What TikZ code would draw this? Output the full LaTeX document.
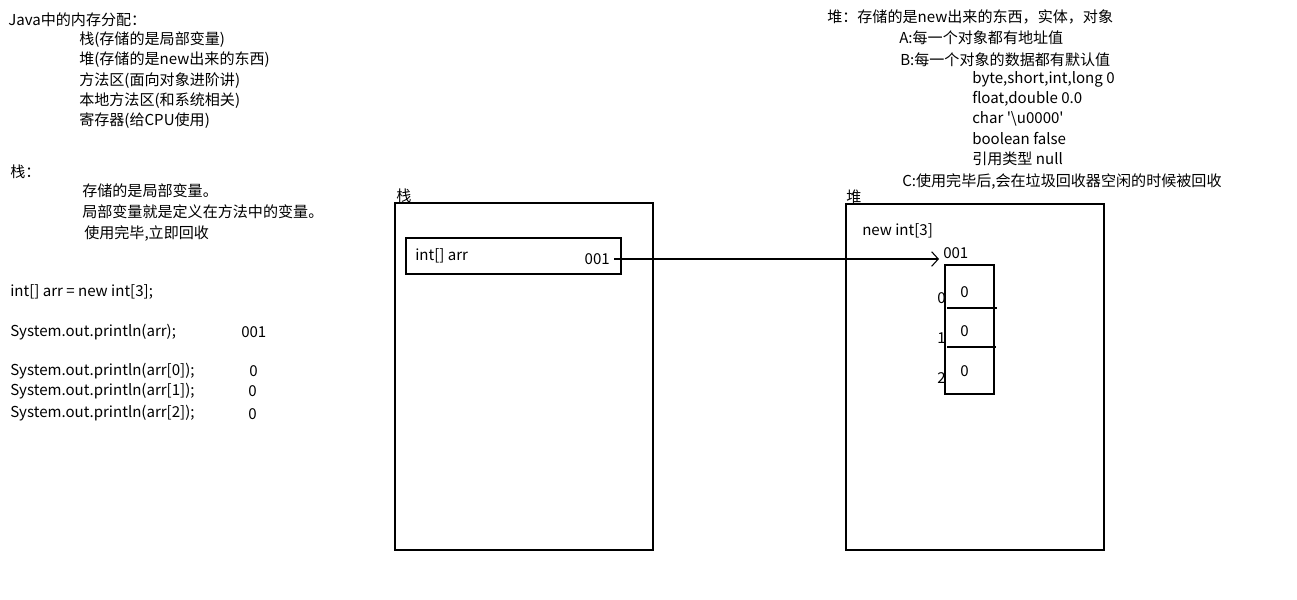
\documentclass[tikz,border=0pt]{standalone}
\usepackage{fontspec}
\setmainfont{Noto Sans CJK SC}
\usetikzlibrary{arrows.meta,positioning}

\tikzset{
  txt/.style={anchor=west, inner sep=0pt, font=\fontsize{11.3pt}{13pt}\selectfont},
  area/.style={draw, line width=0.8pt},
  pointer/.style={-{Straight Barb[length=5pt,width=11pt]}, line width=0.8pt}
}

\begin{document}
\begin{tikzpicture}[x=0.75pt, y=-0.75pt]
  \useasboundingbox (0,0) rectangle (1297,600);

  % Notes on memory areas
  \node[txt] (title) at (8,20) {Java中的内存分配：};
  \node[txt] (m1) at (79,40) {栈(存储的是局部变量)};
  \node[txt] (m2) at (79,60) {堆(存储的是new出来的东西)};
  \node[txt] (m3) at (79,81) {方法区(面向对象进阶讲)};
  \node[txt] (m4) at (79,101) {本地方法区(和系统相关)};
  \node[txt] (m5) at (79,121) {寄存器(给CPU使用)};

  % Notes on the stack
  \node[txt] (snote) at (10,172) {栈：};
  \node[txt] (s1) at (82,191) {存储的是局部变量。};
  \node[txt] (s2) at (82,212) {局部变量就是定义在方法中的变量。};
  \node[txt] (s3) at (84,234) {使用完毕,立即回收};

  % Code and its output
  \node[txt] (c1) at (10,292) {int[] arr = new int[3];};
  \node[txt] (c2) at (10,332) {System.out.println(arr);};
  \node[txt] (o2) at (241,332) {001};
  \node[txt] (c3) at (10,371) {System.out.println(arr[0]);};
  \node[txt] (o3) at (249,371) {0};
  \node[txt] (c4) at (10,391) {System.out.println(arr[1]);};
  \node[txt] (o4) at (248,391) {0};
  \node[txt] (c5) at (10,413) {System.out.println(arr[2]);};
  \node[txt] (o5) at (248,414) {0};

  % Notes on the heap
  \node[txt] (hnote) at (827,17) {堆：存储的是new出来的东西，实体，对象};
  \node[txt] (h1) at (899,38) {A:每一个对象都有地址值};
  \node[txt] (h2) at (900,60) {B:每一个对象的数据都有默认值};
  \node[txt] (d1) at (972,79) {byte,short,int,long 0};
  \node[txt] (d2) at (972,99) {float,double 0.0};
  \node[txt] (d3) at (972,119) {char \textquotesingle\textbackslash u0000\textquotesingle};
  \node[txt] (d4) at (972,139) {boolean false};
  \node[txt] (d5) at (972,159) {引用类型 null};
  \node[txt] (h3) at (902,182) {C:使用完毕后,会在垃圾回收器空闲的时候被回收};

  % Stack area
  \node[txt] (stacklbl) at (396,196) {栈};
  \draw[area] (395,203) rectangle (653,550);
  \draw[area] (406,238) rectangle (621,274);
  \node[txt] (var) at (415,256) {int[] arr};
  \node[txt, anchor=east, inner xsep=3pt] (ptr) at (614,259) {001};

  % Heap area
  \node[txt] (heaplbl) at (846,197) {堆};
  \draw[area] (846,204) rectangle (1104,550);
  \node[txt] (newarr) at (862,231) {new int[3]};
  \node[txt] (haddr) at (943,253) {001};
  \coordinate (tip) at (939,261);

  % Array cells
  \draw[area] (945,265) rectangle (994,394);
  \draw[line width=0.8pt] (947,308) -- (997,308);
  \draw[line width=0.8pt] (947,347) -- (996,347);
  \foreach \i/\y in {0/292, 1/331, 2/371} {
    \node[txt] (cell\i) at (960,\y) {0};
  }
  \foreach \i/\y in {0/298, 1/338, 2/378} {
    \node[txt] (idx\i) at (937,\y) {\i};
  }

  % Reference from stack to heap
  \draw[pointer] (ptr.east) -- (ptr.east -| tip);

\end{tikzpicture}
\end{document}
